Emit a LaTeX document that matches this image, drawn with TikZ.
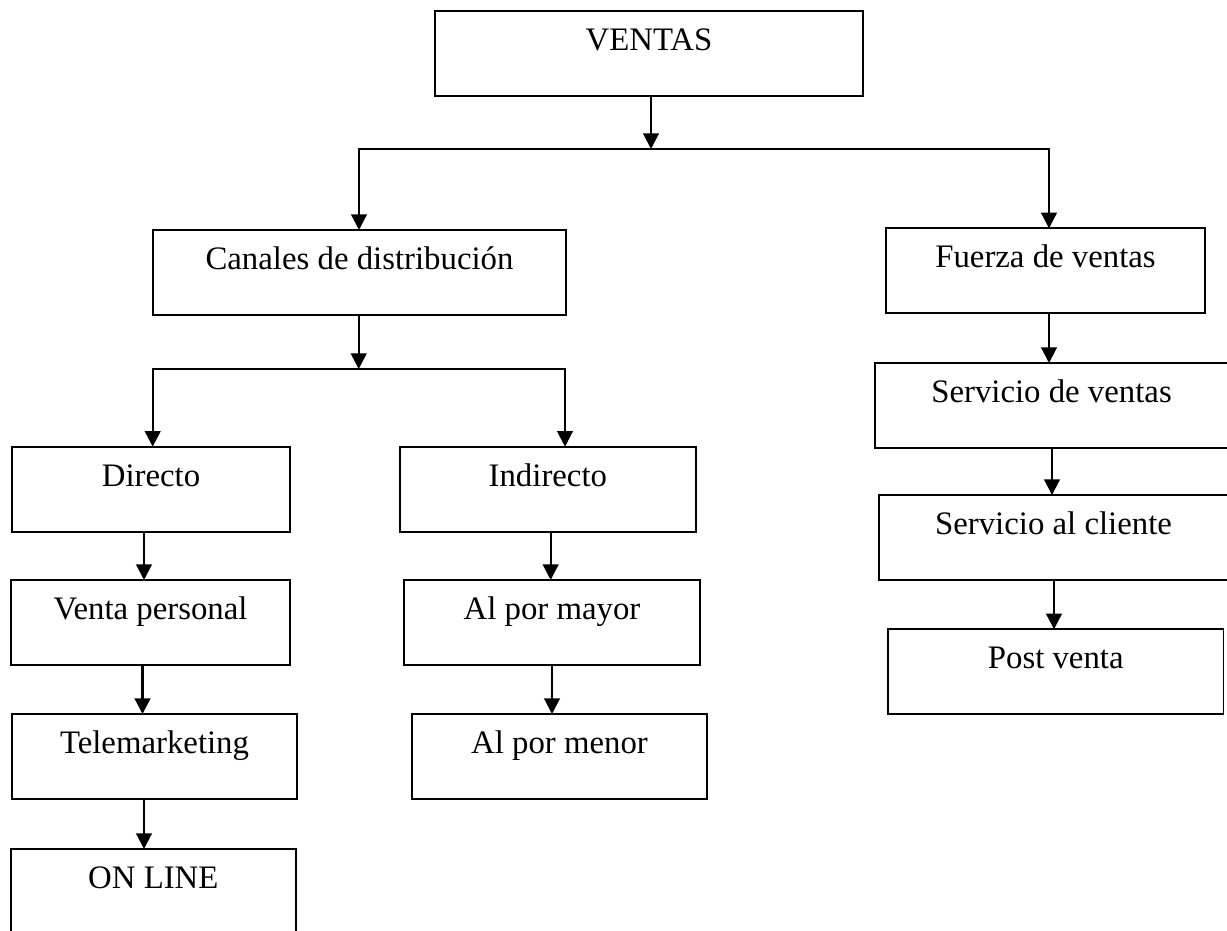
\documentclass[tikz,border=0pt]{standalone}
\usepackage{fontspec}
\setmainfont{Liberation Serif}
\usetikzlibrary{arrows.meta}
\begin{document}
\begin{tikzpicture}[x=0.5pt,y=-0.5pt,
  box/.style={draw, line width=0.85pt, rectangle, anchor=north west,
    inner sep=0pt, outer sep=0pt, text height=19.75pt, text depth=22.75pt,
    font=\fontsize{16.4pt}{20pt}\selectfont},
  conn/.style={line width=1.1pt},
  arr/.style={conn, -{Triangle[length=7.8pt,width=7.8pt]}},
  arrboth/.style={conn, {Triangle[length=7.8pt,width=7.8pt]}-{Triangle[length=7.8pt,width=7.8pt]}}]

\fill[white] (0,0) rectangle (1227,931);
\useasboundingbox (0,0) rectangle (1227,931);

% boxes
\node[box, minimum width=214pt]    (ventas)    at (435,10.7)   {VENTAS};
\node[box, minimum width=206.5pt]  (canales)   at (153,230)    {Canales de distribución};
\node[box, minimum width=159.5pt]  (fuerza)    at (886,228.3)  {Fuerza de ventas};
\node[box, minimum width=139pt]    (directo)   at (12,446.7)   {Directo};
\node[box, minimum width=147.85pt] (indirecto) at (400,446.7)  {Indirecto};
\node[box, minimum width=139.5pt]  (vpers)     at (11,580)     {Venta personal};
\node[box, minimum width=148pt]    (mayor)     at (404,580)    {Al por mayor};
\node[box, minimum width=142.2pt]  (telem)     at (12.3,714)   {Telemarketing};
\node[box, minimum width=147.5pt]  (menor)     at (412,714)    {Al por menor};
\node[box, minimum width=142.35pt] (online)    at (11,849)     {ON LINE};
\node[box, minimum width=176.5pt]  (sventas)   at (875,363)    {Servicio de ventas};
\node[box, minimum width=174.5pt]  (scliente)  at (879,495)    {Servicio al cliente};
\node[box, minimum width=167.75pt] (post)      at (888,629.3)  {Post venta};

% branching points
\coordinate (hubA)  at (651,149);
\coordinate (hubAL) at (359,149);
\coordinate (hubAR) at (1049,149);
\coordinate (hubB)  at (358.7,369);
\coordinate (hubBL) at (152.7,369);
\coordinate (hubBR) at (565,369);

% first level split
\draw[arr] (ventas.south -| hubA) -- (hubA);
\draw[arrboth] (canales.north -| hubAL) -- (hubAL) -- (hubAR) -- (fuerza.north -| hubAR);

% second level split
\draw[arr] (canales.south -| hubB) -- (hubB);
\draw[arrboth] (directo.north -| hubBL) -- (hubBL) -- (hubBR) -- (indirecto.north -| hubBR);

% straight chains
\path ([xshift=-3.5pt]directo.south) coordinate (d1)
      ([xshift=-4pt]vpers.south) coordinate (d2)
      ([xshift=-5.25pt]telem.south) coordinate (d3)
      ([xshift=1.4pt]indirecto.south) coordinate (i1)
      (mayor.south) coordinate (i2)
      ([xshift=1.75pt]fuerza.south) coordinate (f1)
      ([xshift=0.25pt]sventas.south) coordinate (f2)
      ([xshift=0.25pt]scliente.south) coordinate (f3);

\draw[arr] (d1) -- (d1 |- vpers.north);
\draw[arr] (d2) -- (d2 |- telem.north);
\draw[arr] (d3) -- (d3 |- online.north);
\draw[arr] (i1) -- (i1 |- mayor.north);
\draw[arr] (i2) -- (i2 |- menor.north);
\draw[arr] (f1) -- (f1 |- sventas.north);
\draw[arr] (f2) -- (f2 |- scliente.north);
\draw[arr] (f3) -- (f3 |- post.north);
\end{tikzpicture}
\end{document}
